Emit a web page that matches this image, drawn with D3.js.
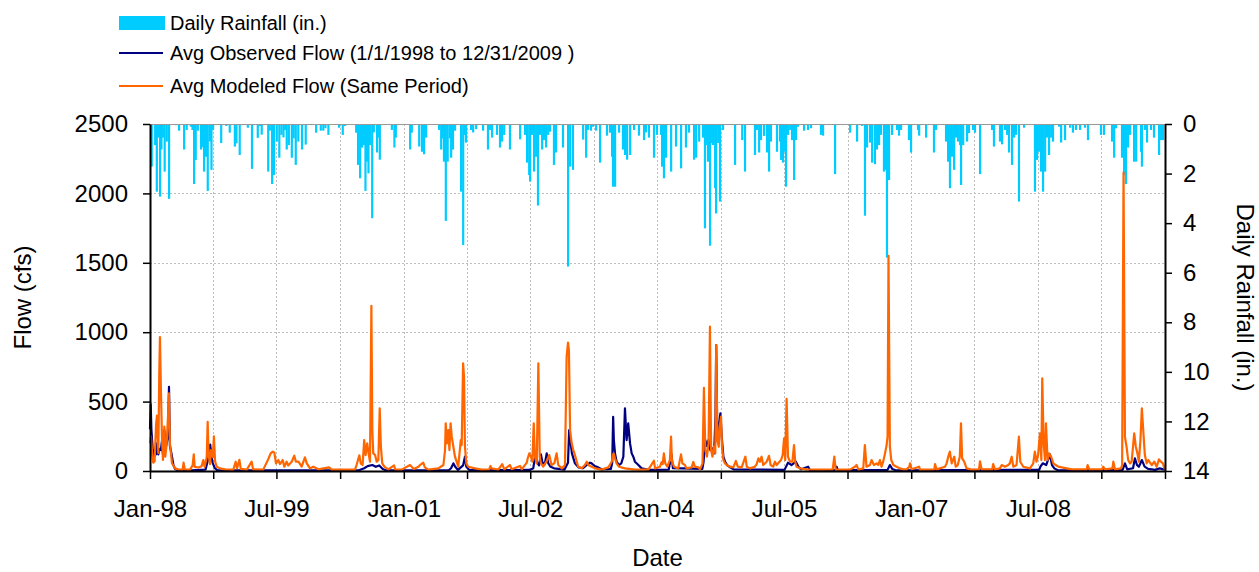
<!DOCTYPE html>
<html>
<head>
<meta charset="utf-8">
<script src="https://cdn.jsdelivr.net/npm/d3@7"></script>
<style>
  html, body { margin: 0; padding: 0; background: #fff; }
  svg { display: block; font-family: "Liberation Sans", Arial, sans-serif; }
</style>
</head>
<body>
<svg id="chart" width="1259" height="572"></svg>
<script>
// ---------------- DATA (day = days since 1 Jan 1998) ----------------
const recordStart = [1998, 0, 1];
const recordEnd = [2010, 0, 1];

const seriesNames = [
  "Daily Rainfall (in.)",
  "Avg Observed Flow (1/1/1998 to 12/31/2009 )",
  "Avg Modeled Flow (Same Period)"
];

const flowTicks = [0, 500, 1000, 1500, 2000, 2500];
const rainTicks = [0, 2, 4, 6, 8, 10, 12, 14];
const dateTickLabels = ["Jan-98", "", "Jul-99", "", "Jan-01", "", "Jul-02", "", "Jan-04", "", "Jul-05", "", "Jan-07", "", "Jul-08", "", ""];

// daily rainfall events [day, inches]
const rainfall = [
[7,1.72],[22,0.85],[29,2.73],[35,0.55],[43,2.93],[49,1.03],[55,0.55],[63,1.92],[72,0.71],[82,3.02],
[112,0.05],[125,0.27],[147,1.03],[158,0.24],[176,0.11],[183,0.24],[190,2.42],[197,1.45],[206,0.27],[220,1.03],
[226,0.94],[233,1.92],[241,1.32],[249,2.70],[258,0.71],[265,1.85],[272,0.24],[307,0.77],[329,0.08],[344,0.35],
[366,0.91],[373,0.78],[387,1.25],[422,0.15],[440,1.81],[465,0.56],[474,0.08],[482,0.43],[510,1.92],[517,0.27],
[527,2.42],[535,2.06],[547,0.71],[558,1.36],[567,0.44],[576,0.54],[583,0.24],[590,1.03],[599,0.85],[612,1.36],
[620,0.58],[629,1.65],[640,0.71],[656,1.03],[672,0.83],[717,0.35],[737,0.27],[748,0.27],[757,0.17],[770,0.44],
[804,0.04],[816,0.15],[832,0.44],[842,0.08],[890,0.35],[898,1.65],[907,2.19],[915,0.95],[923,0.85],[930,2.70],
[937,1.52],[943,1.99],[949,0.85],[959,3.80],[966,0.34],[980,1.15],[986,0.55],[992,1.44],[1044,0.24],[1055,0.95],
[1061,0.55],[1123,1.03],[1130,0.35],[1162,0.91],[1174,1.12],[1183,1.22],[1192,0.55],[1248,0.24],[1257,1.03],[1265,0.58],
[1269,1.52],[1277,3.91],[1285,1.52],[1294,0.58],[1300,1.36],[1308,1.03],[1317,0.27],[1343,2.73],[1352,4.88],[1359,0.44],
[1364,0.75],[1373,0.04],[1386,0.24],[1395,0.34],[1408,0.21],[1416,0.04],[1438,0.27],[1459,1.03],[1468,0.24],[1477,0.55],
[1498,0.44],[1511,0.95],[1520,0.71],[1529,0.44],[1554,1.03],[1598,0.62],[1619,0.44],[1628,1.56],[1637,2.06],[1641,2.32],
[1649,0.44],[1658,1.92],[1667,1.32],[1675,3.29],[1684,0.44],[1693,1.03],[1701,0.65],[1710,0.95],[1719,0.44],[1727,0.31],
[1744,1.65],[1753,1.15],[1762,0.04],[1783,0.95],[1805,5.75],[1814,1.72],[1826,1.85],[1861,0.04],[1870,0.63],[1883,1.36],
[1891,0.24],[1904,0.27],[1913,0.11],[1926,0.27],[1943,1.56],[1973,0.47],[1986,0.35],[1995,1.32],[1999,2.53],[2008,2.53],
[2025,0.35],[2042,1.03],[2051,1.25],[2060,1.44],[2073,1.25],[2090,0.24],[2111,0.47],[2133,0.65],[2141,0.34],[2154,0.55],
[2176,1.36],[2189,0.44],[2206,0.44],[2211,1.72],[2219,2.19],[2228,1.36],[2250,1.92],[2271,0.91],[2293,1.79],[2314,0.95],
[2327,0.35],[2349,1.44],[2358,1.36],[2371,0.71],[2388,0.55],[2396,4.21],[2405,0.85],[2409,1.52],[2418,4.91],[2427,0.78],
[2431,0.85],[2440,2.59],[2444,3.61],[2453,0.77],[2461,3.13],[2474,0.24],[2526,1.65],[2557,0.65],[2569,1.92],[2612,1.25],
[2621,0.24],[2630,1.15],[2638,0.65],[2651,0.48],[2664,1.15],[2673,1.92],[2681,0.71],[2707,1.12],[2720,0.71],[2725,1.45],
[2733,1.56],[2738,1.12],[2746,2.53],[2755,0.44],[2764,0.24],[2772,0.65],[2781,2.26],[2789,0.65],[2798,0.11],[2824,0.27],
[2841,0.24],[2854,0.17],[2897,0.44],[2906,0.47],[2940,0.04],[2958,2.02],[3023,0.35],[3053,0.71],[3074,0.08],[3087,3.70],
[3096,0.95],[3109,0.75],[3118,1.56],[3130,1.62],[3139,1.03],[3148,0.85],[3156,0.44],[3169,1.92],[3178,1.85],[3182,5.39],
[3191,2.26],[3204,0.44],[3225,0.24],[3234,0.47],[3243,0.24],[3277,0.65],[3286,1.15],[3316,0.24],[3321,0.47],[3351,0.55],
[3385,1.15],[3394,0.24],[3437,0.71],[3446,1.52],[3454,2.59],[3463,1.32],[3472,1.85],[3480,0.55],[3489,0.71],[3498,0.85],
[3502,2.46],[3511,0.85],[3528,0.71],[3536,0.37],[3554,0.24],[3562,0.35],[3584,2.02],[3614,0.04],[3636,0.24],[3644,0.91],
[3670,0.71],[3679,0.82],[3692,0.24],[3701,0.44],[3709,1.15],[3722,1.65],[3731,0.55],[3739,0.44],[3752,3.13],[3774,0.15],
[3804,0.04],[3821,2.73],[3830,1.45],[3839,1.12],[3847,1.92],[3856,2.73],[3865,1.92],[3873,0.55],[3882,1.25],[3891,0.55],
[3899,0.71],[3925,0.11],[3934,0.75],[3951,0.65],[3973,0.15],[3985,0.35],[3998,0.24],[4016,0.24],[4029,0.04],[4037,0.15],
[4050,0.65],[4106,0.44],[4119,0.44],[4154,0.71],[4163,1.36],[4171,0.17],[4193,0.04],[4197,1.36],[4206,2.06],[4214,2.42],
[4223,0.95],[4232,0.44],[4249,1.52],[4258,1.52],[4279,1.12],[4283,1.72],[4296,0.24],[4305,0.75],[4322,0.24],[4335,0.55],
[4357,1.25],[4365,0.65],[4374,0.65]
];

// average observed flow [day, cfs]
const observedFlow = [
[0,300],[3,480],[6,300],[10,200],[14,79],[20,150],[26,120],[30,200],[36,120],[40,160],[47,150],[52,220],[56,120],
[62,295],[66,150],[72,200],[78,250],[82,607],[86,180],[91,140],[95,103],[101,43],[108,15],[120,6],[180,5],[240,10],
[250,80],[256,150],[260,190],[265,120],[270,60],[280,20],[290,6],[900,4],[925,20],[940,35],[960,43],[975,30],[990,40],
[1005,15],[1020,4],[1290,5],[1300,20],[1310,55],[1318,30],[1330,8],[1352,40],[1360,103],[1366,30],[1380,6],[1640,8],
[1655,20],[1665,127],[1672,60],[1680,40],[1688,120],[1695,60],[1705,50],[1713,127],[1720,55],[1730,30],[1745,19],
[1790,10],[1805,60],[1810,295],[1815,223],[1822,127],[1835,55],[1850,26],[1870,20],[1886,43],[1900,60],[1907,55],
[1920,36],[1935,26],[1950,12],[1990,15],[1996,60],[2000,391],[2003,223],[2008,127],[2015,67],[2025,43],[2035,55],
[2044,103],[2051,451],[2058,223],[2065,343],[2073,199],[2080,127],[2087,103],[2094,67],[2109,43],[2123,19],[2152,8],
[2240,10],[2252,120],[2258,20],[2385,15],[2390,60],[2398,223],[2405,180],[2412,223],[2420,150],[2430,163],[2436,127],
[2442,400],[2445,907],[2449,350],[2455,295],[2463,415],[2470,223],[2476,103],[2483,67],[2492,43],[2505,26],[2520,12],
[2740,8],[2755,60],[2770,43],[2789,67],[2800,31],[2812,12],[2842,31],[2850,6],[2960,8],[2965,31],[2970,6],[3185,8],
[3195,43],[3205,15],[3220,5],[3840,8],[3845,31],[3855,55],[3870,43],[3886,120],[3895,43],[3905,19],[3920,5],[4200,8],
[4210,55],[4220,12],[4245,20],[4253,91],[4262,43],[4270,30],[4283,79],[4295,31],[4310,15],[4340,8],[4360,19],[4382,10]
];

// average modeled flow [day, cfs]
const modeledFlow = [
[0,200],[4,250],[9,130],[14,60],[20,70],[26,330],[30,400],[36,130],[40,700],[43,965],[47,600],[52,223],[56,80],[62,320],
[66,103],[72,199],[78,400],[82,560],[86,200],[91,120],[95,55],[101,40],[108,19],[122,12],[141,10],[145,60],[150,12],
[173,10],[184,40],[189,120],[193,30],[209,25],[223,35],[230,79],[236,30],[245,100],[249,355],[253,120],[259,50],[263,151],
[271,100],[276,250],[281,70],[288,31],[302,19],[324,12],[360,10],[370,67],[376,20],[386,80],[392,15],[418,10],[439,67],
[445,12],[489,10],[512,90],[521,127],[530,139],[537,132],[544,55],[554,79],[561,50],[573,79],[580,31],[590,67],[597,40],
[612,67],[623,110],[630,67],[641,67],[655,31],[669,98],[677,55],[691,19],[705,31],[727,12],[773,26],[785,10],[885,10],
[892,43],[904,113],[910,55],[918,43],[925,223],[931,115],[938,199],[944,127],[950,67],[956,1190],[960,300],[964,127],
[972,115],[979,67],[986,79],[992,451],[997,175],[1003,55],[1012,31],[1029,12],[1054,40],[1059,12],[1087,10],[1123,43],
[1130,31],[1139,15],[1159,31],[1166,43],[1180,60],[1187,26],[1202,10],[1245,19],[1267,43],[1274,150],[1277,343],
[1282,199],[1288,295],[1293,151],[1298,343],[1303,247],[1310,175],[1317,103],[1324,67],[1331,31],[1342,223],[1346,187],
[1352,775],[1356,680],[1360,175],[1366,55],[1374,31],[1403,19],[1432,10],[1465,12],[1470,36],[1475,19],[1504,10],
[1521,50],[1530,12],[1554,43],[1562,12],[1598,36],[1605,12],[1627,60],[1631,91],[1638,127],[1645,103],[1651,67],
[1657,343],[1662,103],[1670,55],[1677,775],[1683,103],[1688,55],[1698,31],[1712,67],[1724,115],[1734,43],[1746,55],
[1756,127],[1763,43],[1778,19],[1792,43],[1799,823],[1805,925],[1809,871],[1814,295],[1821,199],[1828,151],[1835,115],
[1843,67],[1849,31],[1864,19],[1878,43],[1886,67],[1893,43],[1907,31],[1922,19],[1950,10],[1979,26],[1994,67],[1998,110],
[2002,127],[2008,91],[2015,55],[2025,31],[2051,19],[2094,10],[2152,10],[2176,74],[2181,19],[2202,31],[2209,63],[2214,50],
[2219,127],[2225,55],[2234,31],[2245,79],[2250,247],[2254,67],[2263,31],[2281,19],[2293,120],[2299,55],[2310,43],
[2317,19],[2339,26],[2346,65],[2353,31],[2368,26],[2375,12],[2386,55],[2392,599],[2398,151],[2405,103],[2412,199],
[2418,1040],[2423,151],[2429,103],[2435,175],[2441,127],[2445,907],[2450,223],[2456,175],[2460,319],[2466,391],
[2470,175],[2476,79],[2483,55],[2490,43],[2504,31],[2519,26],[2530,72],[2538,31],[2555,26],[2571,103],[2577,31],
[2591,19],[2612,31],[2620,50],[2627,91],[2634,67],[2641,103],[2648,43],[2663,67],[2673,108],[2680,43],[2691,31],
[2699,67],[2706,43],[2725,79],[2732,115],[2738,235],[2743,79],[2749,520],[2755,103],[2764,67],[2774,67],[2781,187],
[2786,67],[2792,31],[2807,19],[2835,12],[2893,10],[2948,12],[2955,103],[2961,10],[3023,10],[3044,31],[3051,43],
[3059,10],[3080,19],[3087,187],[3094,31],[3109,43],[3116,79],[3126,43],[3138,55],[3145,43],[3152,79],[3159,31],
[3166,67],[3174,127],[3181,187],[3185,247],[3189,1550],[3195,175],[3201,79],[3210,43],[3224,31],[3238,19],[3253,12],
[3267,12],[3279,31],[3282,55],[3289,12],[3321,31],[3325,10],[3387,12],[3390,50],[3397,12],[3433,31],[3440,55],
[3447,103],[3454,139],[3462,55],[3473,103],[3479,31],[3488,43],[3497,103],[3502,343],[3507,91],[3516,67],[3526,19],
[3548,10],[3580,12],[3584,70],[3591,12],[3637,12],[3641,50],[3649,12],[3670,19],[3678,43],[3692,31],[3706,43],
[3713,55],[3721,103],[3728,31],[3742,43],[3752,247],[3758,67],[3771,31],[3800,19],[3814,55],[3821,139],[3828,67],
[3835,115],[3843,271],[3849,79],[3853,667],[3859,199],[3865,79],[3869,343],[3876,79],[3882,127],[3891,103],[3901,55],
[3911,43],[3922,31],[3937,26],[3958,19],[3980,12],[4045,12],[4049,43],[4056,12],[4112,12],[4116,31],[4124,12],
[4156,19],[4160,67],[4167,12],[4193,19],[4198,43],[4204,2150],[4210,247],[4217,175],[4224,79],[4232,55],[4239,67],
[4250,271],[4257,175],[4264,127],[4270,67],[4277,223],[4283,451],[4289,295],[4296,115],[4304,55],[4311,79],[4326,43],
[4337,67],[4347,31],[4357,84],[4365,67],[4374,55],[4382,12]
];

// ---------------- CHART ----------------
const colors = { rain: "#00CCFF", observed: "#000080", modeled: "#FF6600" };
const margin = { left: 150, right: 94, top: 124, bottom: 101 };
const W = 1259, H = 572;
const plotL = margin.left, plotR = W - margin.right, plotT = margin.top, plotB = H - margin.bottom;

const dayToDate = d => new Date(Date.UTC(recordStart[0], recordStart[1], recordStart[2] + d));
const t0 = new Date(Date.UTC(...recordStart));
const t1 = new Date(Date.UTC(...recordEnd));

const x = d3.scaleUtc().domain([t0, t1]).range([plotL, plotR]);
const yFlow = d3.scaleLinear().domain([0, 2500]).range([plotB, plotT]);
const yRain = d3.scaleLinear().domain([0, 14]).range([plotT, plotB]);

const svg = d3.select("#chart");
const FONT = 24;

// date ticks every 9 months
const dateTicks = d3.range(dateTickLabels.length).map(i => d3.utcMonth.offset(t0, i * 9));

// gridlines
const grid = svg.append("g").attr("stroke", "#bdbdbd").attr("stroke-width", 1).attr("stroke-dasharray", "2,2");
grid.selectAll("line.h").data(flowTicks.filter(v => v > 0)).join("line")
  .attr("x1", plotL).attr("x2", plotR)
  .attr("y1", d => Math.round(yFlow(d)) + 0.5).attr("y2", d => Math.round(yFlow(d)) + 0.5);
grid.selectAll("line.v").data(dateTicks.slice(1, -1)).join("line")
  .attr("y1", plotT).attr("y2", plotB)
  .attr("x1", d => Math.round(x(d)) + 0.5).attr("x2", d => Math.round(x(d)) + 0.5);

// rainfall bars hanging from the top
svg.append("g").attr("fill", colors.rain)
  .selectAll("rect").data(rainfall).join("rect")
  .attr("x", d => x(dayToDate(d[0])) - 1)
  .attr("width", 2.2)
  .attr("y", yRain(0))
  .attr("height", d => yRain(d[1]) - yRain(0));

// top border
svg.append("line").attr("x1", plotL).attr("x2", plotR).attr("y1", plotT + 0.5).attr("y2", plotT + 0.5)
  .attr("stroke", "#999").attr("stroke-width", 1);

// flow lines
const line = d3.line().x(d => x(dayToDate(d[0]))).y(d => yFlow(d[1]));
svg.append("path").datum(observedFlow).attr("d", line)
  .attr("fill", "none").attr("stroke", colors.observed).attr("stroke-width", 2.2).attr("stroke-linejoin", "round");
svg.append("path").datum(modeledFlow).attr("d", line)
  .attr("fill", "none").attr("stroke", colors.modeled).attr("stroke-width", 2.2).attr("stroke-linejoin", "round");

// axes
const axL = svg.append("g").attr("transform", `translate(${plotL},0)`)
  .call(d3.axisLeft(yFlow).tickValues(flowTicks).tickFormat(d3.format("d")).tickSize(7).tickSizeOuter(0).tickPadding(15));
const axR = svg.append("g").attr("transform", `translate(${plotR},0)`)
  .call(d3.axisRight(yRain).tickValues(rainTicks).tickFormat(d3.format("d")).tickSize(7).tickSizeOuter(0).tickPadding(11));
const axB = svg.append("g").attr("transform", `translate(0,${plotB})`)
  .call(d3.axisBottom(x).tickValues(dateTicks).tickSize(8).tickSizeOuter(0).tickPadding(21)
    .tickFormat((d, i) => dateTickLabels[i]));
[axL, axR, axB].forEach(a => {
  a.select(".domain").attr("stroke", "#000").attr("stroke-width", 2);
  a.selectAll(".tick line").attr("stroke", "#000").attr("stroke-width", 1.5);
  a.selectAll("text").attr("fill", "#000").style("font-size", FONT + "px").style("font-family", "'Liberation Sans', Arial, sans-serif");
});

// axis titles
svg.append("text").attr("transform", `translate(31,${(plotT + plotB) / 2}) rotate(-90)`)
  .attr("text-anchor", "middle").style("font-size", FONT + "px").text("Flow (cfs)");
svg.append("text").attr("transform", `translate(1237,${(plotT + plotB) / 2}) rotate(90)`)
  .attr("text-anchor", "middle").style("font-size", FONT + "px").text("Daily Rainfall (in.)");
svg.append("text").attr("x", (plotL + plotR) / 2).attr("y", 566)
  .attr("text-anchor", "middle").style("font-size", FONT + "px").text("Date");

// legend
const leg = svg.append("g").style("font-size", "20px");
const legY = [23, 53, 86];
leg.append("rect").attr("x", 119).attr("y", legY[0] - 7).attr("width", 46).attr("height", 14).attr("fill", colors.rain);
leg.append("line").attr("x1", 119).attr("x2", 163).attr("y1", legY[1]).attr("y2", legY[1]).attr("stroke", colors.observed).attr("stroke-width", 2);
leg.append("line").attr("x1", 119).attr("x2", 163).attr("y1", legY[2]).attr("y2", legY[2]).attr("stroke", colors.modeled).attr("stroke-width", 2);
leg.selectAll("text").data(seriesNames).join("text")
  .attr("x", 170).attr("y", (d, i) => legY[i]).attr("dy", "0.35em").text(d => d);
</script>
</body>
</html>
